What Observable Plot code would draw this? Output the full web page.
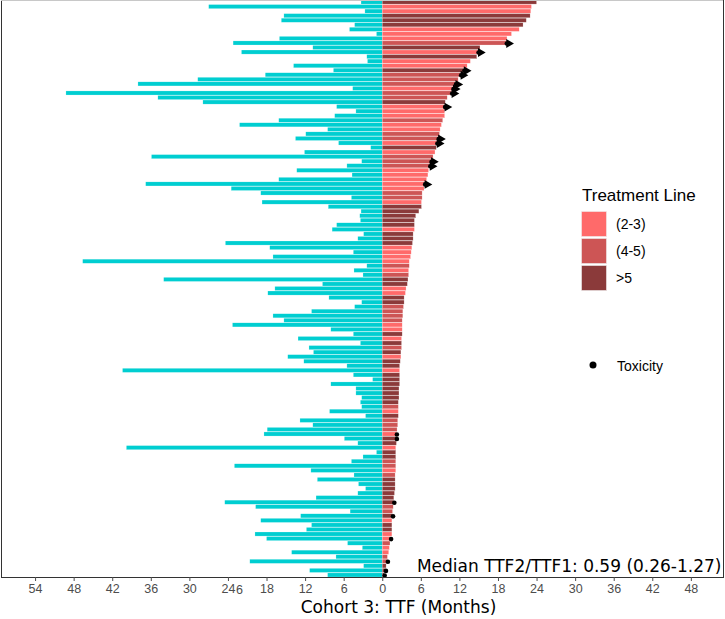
<!DOCTYPE html>
<html><head><meta charset="utf-8">
<script src="https://cdn.jsdelivr.net/npm/d3@7"></script>
<script src="https://cdn.jsdelivr.net/npm/@observablehq/plot@0.6"></script>
<style>body{margin:0;background:#fff}#chart{width:725px;height:619px}</style>
</head><body><div id="chart"></div>
<script>
// TTF1 (left, months) per patient row, top to bottom
const ttf1 = [3.3,27.0,2.7,15.3,15.7,4.3,5.1,0.9,16.0,23.2,
10.8,21.9,2.4,2.3,13.8,7.6,18.2,28.7,38.0,4.6,
49.2,34.9,27.9,7.1,4.1,7.4,16.1,22.2,8.5,11.9,
13.5,6.8,1.8,12.1,35.9,3.2,5.5,13.3,4.7,16.1,
36.8,23.5,18.9,4.8,18.7,8.4,3.3,3.5,3.4,7.1,
7.8,2.9,3.8,24.4,17.5,4.5,17.0,46.6,2.4,4.4,
3.0,34.0,9.3,16.7,17.8,8.3,3.2,4.3,11.0,17.0,
15.3,23.3,8.0,4.5,13.1,3.4,11.4,10.7,14.7,12.2,
5.5,40.4,4.5,1.5,8.0,4.1,4.1,3.2,3.4,3.2,
8.2,2.6,12.8,10.8,17.9,18.4,5.9,3.8,39.8,0.9,
3.0,4.8,23.0,11.1,4.4,10.1,3.7,2.6,3.8,10.3,
24.5,19.7,5.0,12.7,18.9,11.0,11.8,19.8,18.0,5.4,
3.1,14.1,7.2,20.6,2.9,11.3,8.5];
// TTF2 (right, months)
const ttf2 = [24.0,23.2,23.1,23.0,22.4,21.9,21.3,20.1,19.4,19.3,
15.2,14.9,14.7,13.7,13.2,12.7,12.2,11.8,11.4,11.0,
10.8,10.1,9.8,9.7,9.7,9.7,9.4,9.2,9.0,8.9,
8.7,8.5,8.4,8.2,7.9,7.6,7.4,7.2,7.1,6.9,
6.6,6.5,6.2,6.2,6.1,6.1,5.7,5.2,5.0,5.0,
5.0,4.8,4.8,4.7,4.6,4.5,4.4,4.2,4.2,4.1,
4.1,4.0,3.9,3.7,3.6,3.4,3.4,3.3,3.2,3.2,
3.1,3.1,3.1,3.1,3.0,3.0,3.0,2.9,2.9,2.8,
2.7,2.7,2.7,2.7,2.7,2.6,2.6,2.6,2.5,2.5,
2.5,2.5,2.4,2.4,2.3,2.2,2.2,2.2,2.1,2.1,
2.1,2.1,2.1,2.1,2.0,2.0,2.0,2.0,1.9,1.8,
1.8,1.7,1.6,1.6,1.5,1.5,1.5,1.5,1.3,1.2,
1.1,1.0,0.8,0.8,0.6,0.5,0.3];
const lineLevels = ["(2-3)", "(4-5)", ">5"];
const lineIdx = [3,1,1,3,3,3,1,1,1,2,
3,1,3,1,1,3,2,2,2,1,
2,2,3,1,1,1,2,1,1,2,
2,1,3,1,2,2,2,1,1,1,
1,1,2,2,1,3,3,3,3,3,
1,3,3,3,1,1,1,1,2,1,
2,3,3,1,1,3,3,2,2,2,
2,1,1,3,1,3,2,3,1,3,
3,1,3,3,3,3,3,3,3,2,
1,3,2,2,2,1,3,3,1,3,
3,2,2,1,2,3,3,3,3,3,
3,2,2,3,1,3,3,1,1,2,
1,1,2,2,3,3,3];
const toxRows = [10,12,16,17,19,20,21,24,31,32,36,37,41,96,97,111,114,119,124,126,127];
const arrowRows = [10,12,16,17,19,20,21,24,31,32,36,37,41];
const xTicks = [-54,-48,-42,-36,-30,-24,-18,-12,-6,0,6,12,18,24,30,36,42,48];
const lineColors = ["#FF6A6A", "#CD5555", "#8B3A3A"];
const medianLabel = "Median TTF2/TTF1: 0.59 (0.26-1.27)";
const xTitle = "Cohort 3: TTF (Months)";

const rows = ttf1.map((_, i) => i + 1);
const data = rows.map(r => ({row: r, ttf1: ttf1[r-1], ttf2: ttf2[r-1], line: lineLevels[lineIdx[r-1]-1]}));
const tox = data.filter(d => toxRows.includes(d.row));
const arrows = data.filter(d => arrowRows.includes(d.row));

const plot = Plot.plot({
  width: 725, height: 619,
  marginTop: 0, marginLeft: 1, marginRight: 2, marginBottom: 42,
  style: {fontFamily: "'Liberation Sans', Arial, sans-serif", background: "white", overflow: "visible"},
  x: {domain: [-59.3, 53.0], label: null},
  y: {domain: rows, axis: null, paddingInner: 0.1, paddingOuter: 0},
  color: {domain: lineLevels, range: lineColors},
  marks: [
    Plot.barX(data, {y: "row", x1: 0, x2: d => -d.ttf1, fill: "#00CED1", stroke: "white", strokeOpacity: 0.5, strokeWidth: 0.4}),
    Plot.barX(data, {y: "row", x1: 0, x2: "ttf2", fill: "line", stroke: "white", strokeOpacity: 0.5, strokeWidth: 0.4}),
    Plot.dot(tox, {y: "row", x: "ttf2", r: 2.3, fill: "black"}),
    Plot.dot(arrows, {y: "row", x: "ttf2", symbol: "triangle", rotate: 90, r: 3.3, dx: 2, fill: "black"}),
    Plot.frame({stroke: "#333"}),
    Plot.axisX(xTicks, {tickFormat: d => String(Math.abs(d)), tickSize: 4, tickPadding: 3, fontSize: 12.5, color: "#4d4d4d", label: null}),
    Plot.text([-24], {x: d => d, text: () => "6", frameAnchor: "bottom", dy: 16.5, dx: 11, fontSize: 12.5, fill: "#4d4d4d"}),
    Plot.text([xTitle], {text: d => d, frameAnchor: "bottom", dy: 35, dx: 36, fontSize: 17, fontFamily: "'DejaVu Sans', Verdana, sans-serif", fill: "black"}),
    Plot.text([medianLabel], {text: d => d, frameAnchor: "bottom-right", textAnchor: "end", lineAnchor: "middle", dx: -2, dy: -10.5, fontSize: 17, fontFamily: "'DejaVu Sans', Verdana, sans-serif", fill: "black"})
  ]
});

// top panel edge is light grey in the reference
const svg = d3.select(plot);
svg.append("line").attr("x1", 1).attr("x2", 723).attr("y1", 0.5).attr("y2", 0.5).attr("stroke", "#c8c8c8");

// legend
const color = plot.scale("color");
const lg = svg.append("g").attr("font-family", "'Liberation Sans', Arial, sans-serif").attr("text-anchor", "start");
lg.append("text").attr("x", 582).attr("y", 195).attr("dy", "0.35em").attr("font-size", 17).attr("fill", "black").attr("text-anchor", "start").text("Treatment Line");
lineLevels.forEach((lv, i) => {
  lg.append("rect").attr("x", 581.5).attr("y", 211.5 + i * 27).attr("width", 25).attr("height", 25)
    .attr("fill", color.apply(lv)).attr("stroke", "#eee").attr("stroke-width", 0.6);
  lg.append("text").attr("x", 616).attr("y", 224 + i * 27).attr("dy", "0.35em").attr("font-size", 14).attr("fill", "black").attr("text-anchor", "start").text(lv);
});
lg.append("circle").attr("cx", 593).attr("cy", 365).attr("r", 3.5).attr("fill", "black");
lg.append("text").attr("x", 617).attr("y", 366).attr("dy", "0.35em").attr("font-size", 14).attr("fill", "black").attr("text-anchor", "start").text("Toxicity");

document.getElementById("chart").appendChild(plot);
</script>
</body></html>
